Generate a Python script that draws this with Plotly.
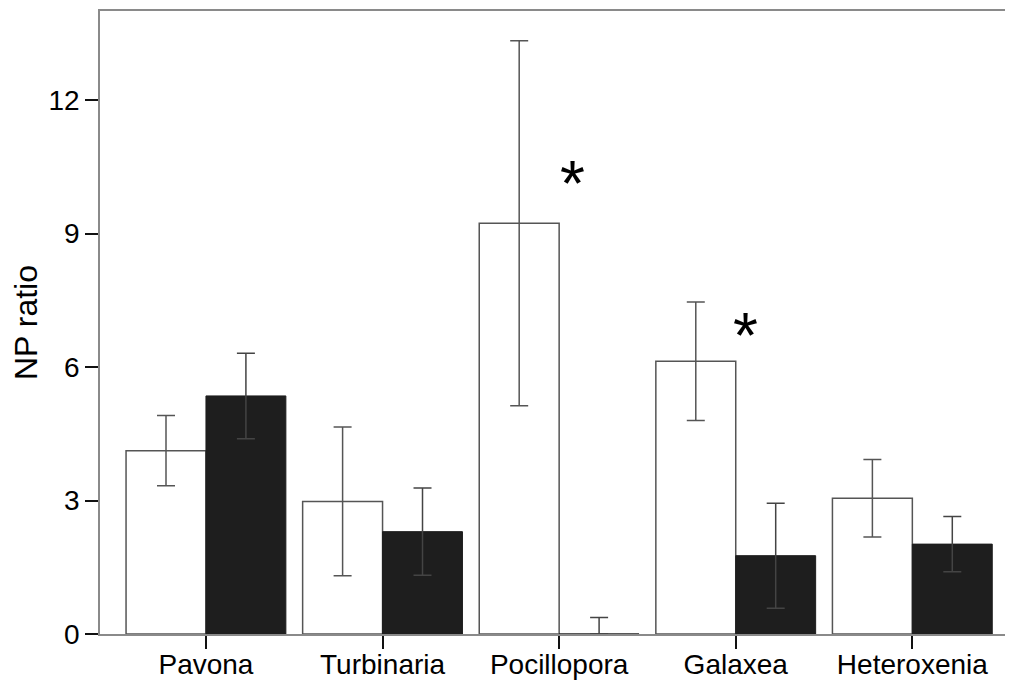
import plotly.graph_objects as go

categories = ["Pavona", "Turbinaria", "Pocillopora", "Galaxea", "Heteroxenia"]
white_vals = [4.12, 2.98, 9.23, 6.13, 3.05]
white_err = [0.79, 1.67, 4.10, 1.33, 0.87]
black_vals = [5.35, 2.30, 0.0, 1.76, 2.02]
black_err_plus = [0.96, 0.98, 0.37, 1.18, 0.62]
black_err_minus = [0.96, 0.98, 0.0, 1.18, 0.62]
y_ticks = [0, 3, 6, 9, 12]
star_cats = ["Pocillopora", "Galaxea"]
star_y = [10.31, 6.90]
star_xshift = [13, 10]

FONT = "Liberation Sans, Arial, Helvetica, sans-serif"

fig = go.Figure()
fig.add_trace(go.Bar(
    x=categories, y=white_vals, name="white",
    marker=dict(color="white", line=dict(color="#555555", width=1.5)),
    error_y=dict(type="data", array=white_err, color="#555555", thickness=1.5, width=9),
))
fig.add_trace(go.Bar(
    x=categories, y=black_vals, name="black",
    marker=dict(color="#1e1e1e", line=dict(color="#1e1e1e", width=1)),
    error_y=dict(type="data", symmetric=False, array=black_err_plus, arrayminus=black_err_minus,
                 color="#444444", thickness=1.5, width=9),
))

for c, yv, xs in zip(star_cats, star_y, star_xshift):
    fig.add_annotation(x=c, y=yv, text="*", showarrow=False, xshift=xs, yshift=-9,
                       font=dict(family=FONT, size=64, color="black"),
                       xanchor="center", yanchor="middle")

# the page body has an 8px margin, so the figure is sized to fit the window
fig.update_layout(
    width=1005, height=676,
    margin=dict(l=92, r=0, t=3, b=50),
    paper_bgcolor="white", plot_bgcolor="white",
    barmode="group", bargap=0.095, bargroupgap=0,
    showlegend=False,
    font=dict(family=FONT, size=28, color="black"),
)
fig.update_xaxes(
    type="category", range=[-0.6, 4.57], automargin=False,
    showline=True, linecolor="#8a8a8a", linewidth=1.5, mirror=True,
    ticks="outside", ticklen=13, tickwidth=2, tickcolor="#111111",
    ticklabelstandoff=-8,
    showgrid=False, zeroline=False,
    tickfont=dict(family=FONT, size=28, color="black"),
)
fig.update_yaxes(
    range=[0, 14], tickvals=y_ticks, automargin=False,
    showline=True, linecolor="#8a8a8a", linewidth=1.5, mirror=False,
    ticks="outside", ticklen=13, tickwidth=2, tickcolor="#111111",
    showgrid=False, zeroline=False,
    tickfont=dict(family=FONT, size=28, color="black"),
    title=dict(text="NP ratio", font=dict(family=FONT, size=32, color="black"), standoff=6),
)

fig.write_html("out.html")
